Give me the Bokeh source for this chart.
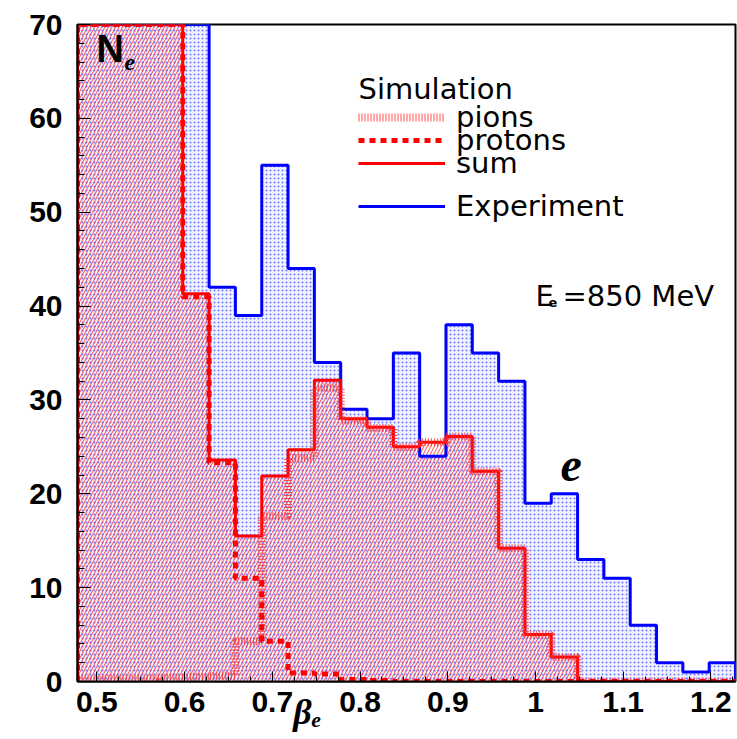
import numpy as np
from bokeh.plotting import figure
from bokeh.models import Range1d, FixedTicker, Label, Legend, LegendItem
from bokeh.embed import file_html
from bokeh.resources import INLINE

# ---------------- data ----------------
x_start = 0.478
bin_width = 0.03
n_bins = 25

experiment = [70, 70, 70, 70, 70, 42, 39, 55, 44, 34, 29, 28, 35, 24, 38,
              35, 32, 19, 20, 13, 11, 6, 2, 1, 2]
pions = [0.2, 0.3, 0.3, 0.4, 0.5, 0.6, 4.3, 17.6, 23.8, 31.3, 27.8, 27.0,
         25.0, 25.5, 26.1, 22.4, 14.2, 5.0, 2.6, 0, 0, 0, 0, 0, 0]
protons = [70, 70, 70, 70, 41.0, 23.3, 11.0, 4.3, 0.9, 0.8, 0.2, 0.1, 0, 0,
           0, 0, 0, 0, 0, 0, 0, 0, 0, 0, 0]
sim_sum = [70, 70, 70, 70, 41.3, 23.6, 15.5, 21.9, 24.7, 32.1, 28.0, 27.1,
           25.0, 25.5, 26.1, 22.4, 14.2, 5.0, 2.6, 0, 0, 0, 0, 0, 0]

x_ticks = [0.5, 0.6, 0.7, 0.8, 0.9, 1.0, 1.1, 1.2]
x_tick_labels = ["0.5", "0.6", "0.7", "0.8", "0.9", "1", "1.1", "1.2"]
y_ticks = [0, 10, 20, 30, 40, 50, 60, 70]

# ---------------- layout ----------------
W, H = 737, 739
L, R, T, B = 77, 2, 24, 58
x_end = x_start + n_bins * bin_width
y_max = 70
fw, fh = W - L - R, H - T - B


def dx(px):
    return x_start + (px - L) / fw * (x_end - x_start)


def dy(py):
    return (T + fh - py) / fh * y_max


edges = x_start + bin_width * np.arange(n_bins + 1)


def outline(vals):
    xs = np.concatenate([[edges[0]], edges])
    ys = np.concatenate([[0], vals, [0]])
    return xs, ys


p = figure(width=W, height=H, output_backend="svg", toolbar_location=None,
           x_range=Range1d(x_start, x_end), y_range=Range1d(0, y_max),
           min_border_left=L, min_border_right=R, min_border_top=T,
           min_border_bottom=B)
p.background_fill_color = "white"
p.border_fill_color = "white"
p.grid.visible = False
p.outline_line_color = "black"
p.outline_line_width = 2

# fills
p.quad(left=edges[:-1], right=edges[1:], bottom=0, top=experiment,
       fill_color="#f2f3ff", fill_alpha=1.0, line_color=None,
       hatch_pattern="dot", hatch_color="#3344ff", hatch_scale=4,
       hatch_weight=1.2, hatch_alpha=0.7)
p.quad(left=edges[:-1], right=edges[1:], bottom=0, top=sim_sum,
       fill_color=None, line_color=None,
       hatch_pattern="/", hatch_color="#ff2a2a", hatch_scale=7,
       hatch_weight=1, hatch_alpha=0.85)

# outlines
ex, ey = outline(experiment)
r_exp = p.step(ex, ey, mode="after", line_color="#0000ff", line_width=3)
sx, sy = outline(sim_sum)
r_sum = p.step(sx, sy, mode="after", line_color="#ff0000", line_width=3)
px_, py_ = outline(pions)
r_pi = p.step(px_, py_, mode="after", line_color="#ff3030", line_width=8,
              line_dash="1 2", line_alpha=0.85)
qx, qy = outline(protons)
r_pr = p.step(qx, qy, mode="after", line_color="#ff0000", line_width=5,
              line_dash="6 5")

# axes
for ax in (p.xaxis[0], p.yaxis[0]):
    ax.major_label_text_font = "Liberation Sans"
    ax.major_label_text_font_style = "bold"
    ax.major_label_text_font_size = "30px"
    ax.major_label_text_color = "black"
    ax.axis_line_color = "black"
    ax.axis_line_width = 2
    ax.major_tick_out = 0
    ax.minor_tick_out = 0
    ax.major_tick_line_color = "black"
    ax.minor_tick_line_color = "black"

p.xaxis.ticker = FixedTicker(ticks=x_ticks,
                             minor_ticks=list(np.round(np.arange(0.475, 1.23, 0.025), 3)))
p.xaxis.major_label_overrides = {t: s for t, s in zip(x_ticks, x_tick_labels)}
p.xaxis.major_tick_in = 10
p.xaxis.minor_tick_in = 5
p.xaxis.major_label_standoff = 10

# axis title beta_e, shifted left of centre by trailing em spaces
p.xaxis.axis_label = "β\u2091" + "\u2003" * 5 + "\u2002"
p.xaxis.axis_label_text_font = "Liberation Serif"
p.xaxis.axis_label_text_font_style = "bold italic"
p.xaxis.axis_label_text_font_size = "36px"
p.xaxis.axis_label_text_color = "black"
p.xaxis.axis_label_standoff = -23

p.yaxis.ticker = FixedTicker(ticks=y_ticks, minor_ticks=list(range(0, 71, 2)))
p.yaxis.major_tick_in = 13
p.yaxis.minor_tick_in = 7
p.yaxis.major_label_standoff = 15

# legend (one item per legend to reproduce the tight ROOT layout)
leg_font = "DejaVu Sans"


def add_legend(label, renderer, center_py):
    lg = Legend(items=[LegendItem(label=label, renderers=[renderer])],
                location=(358 - L, (T + fh) - (center_py + 17)),
                glyph_width=87, glyph_height=34, label_height=34,
                label_standoff=11, padding=0, margin=0, spacing=0,
                border_line_color=None, background_fill_alpha=0,
                label_text_font=leg_font, label_text_font_size="29px",
                label_text_color="black")
    p.add_layout(lg, "center")


add_legend("pions", r_pi, 117)
add_legend("protons", r_pr, 140)
add_legend("sum", r_sum, 163)
add_legend("Experiment", r_exp, 206)


def label(px, py, text, font, size, style="normal"):
    p.add_layout(Label(x=dx(px), y=dy(py), text=text, text_font=font,
                       text_font_size=size, text_font_style=style,
                       text_baseline="alphabetic", text_color="black"))


label(358, 88, "Simulation", leg_font, "29px")

# E_e = 850 MeV
label(535, 295, "E", leg_font, "29px")
label(548, 302, "e", leg_font, "13px", "bold")
label(562, 295, "=850 MeV", leg_font, "29px")

# N_e
label(96, 48, "N", "Liberation Sans", "38px", "bold")
label(124, 62, "e", "Liberation Serif", "24px", "bold italic")

# big e
label(560, 464, "e", "Liberation Serif", "48px", "bold italic")

open("out.html", "w").write(file_html(p, INLINE))
